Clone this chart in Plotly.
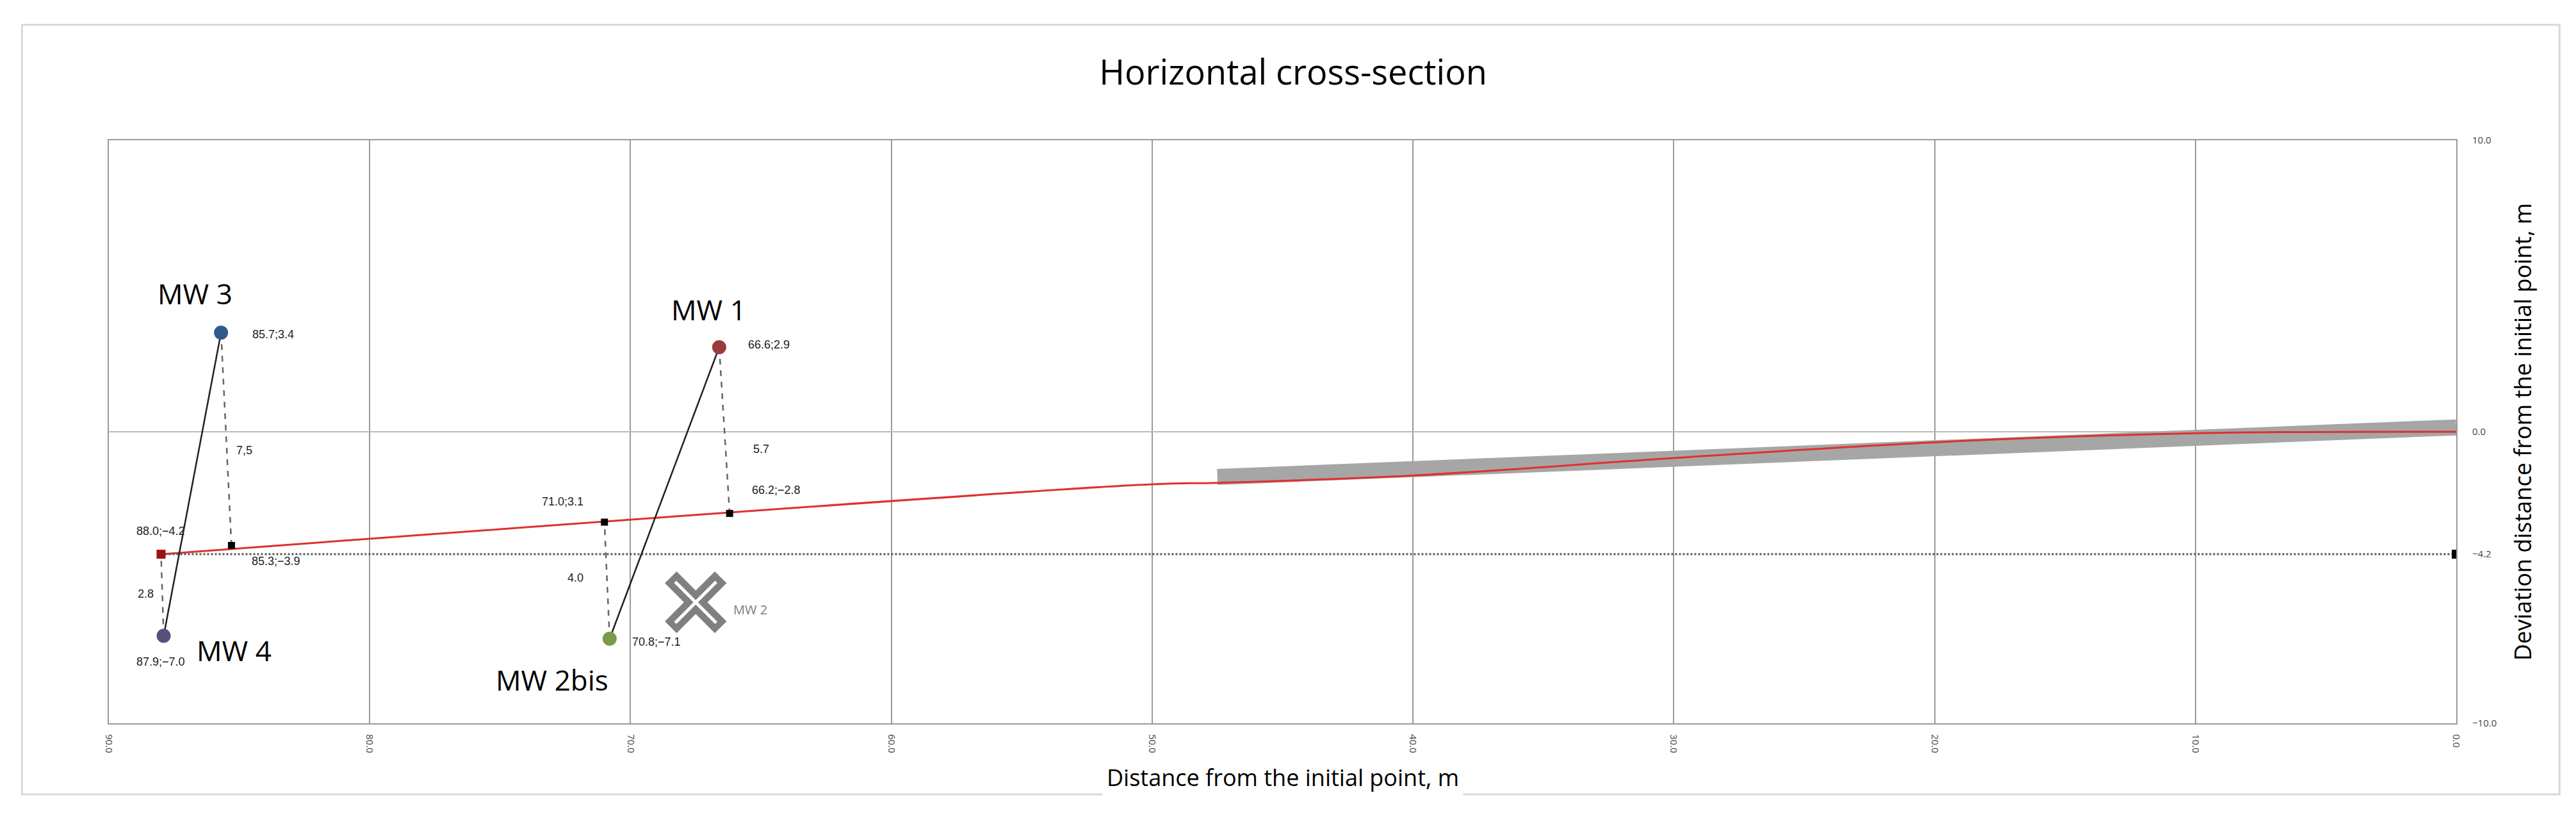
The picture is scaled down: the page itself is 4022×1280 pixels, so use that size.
import plotly.graph_objects as go

# Data
wells = ["MW 3", "MW 1", "MW 4", "MW 2bis"]
well_x = [85.7, 66.6, 87.9, 70.8]
well_y = [3.4, 2.9, -7.0, -7.1]
well_colors = ["#2f5b8a", "#9b3a3a", "#5a4f7c", "#7a9a4a"]
well_labels = ["85.7;3.4", "66.6;2.9", "87.9;−7.0", "70.8;−7.1"]
foot_x = [85.3, 66.2, 88.0, 71.0]
foot_y = [-3.9, -2.8, -4.2, -3.1]
foot_labels = ["85.3;−3.9", "66.2;−2.8", "88.0;−4.2", "71.0;3.1"]
dist_labels = ["7,5", "5.7", "2.8", "4.0"]
route_x = [88.0, 50.0, 47.5, 40.0, 30.0, 20.0, 10.0, 0.0]
route_y = [-4.2, -1.8, -1.75, -1.5, -0.9, -0.36, -0.05, 0.0]
band_x = [47.5, 0.0]
band_y = [-1.55, 0.15]
ref_y = -4.2
mw2_x, mw2_y = 67.5, -5.85

fig = go.Figure()
fig.add_shape(type="rect", xref="paper", yref="paper", x0=-0.037, x1=1.044, y0=-0.122, y1=1.198,
              line=dict(color="#d9d9d9", width=3), layer="below")
fig.add_trace(go.Scatter(x=band_x, y=band_y, mode="lines", line=dict(color="#a6a6a6", width=25)))
fig.add_trace(go.Scatter(x=route_x, y=route_y, mode="lines", line=dict(color="#e03030", width=3, shape="spline")))
fig.add_trace(go.Scatter(x=[route_x[0], 0.0], y=[ref_y, ref_y], mode="lines",
                         line=dict(color="#555", width=3, dash="dot")))
fig.add_trace(go.Scatter(x=[0.0], y=[ref_y], mode="markers",
                         marker=dict(symbol="square", size=14, color="black")))
fig.add_trace(go.Scatter(x=[well_x[0], well_x[2]], y=[well_y[0], well_y[2]], mode="lines",
                         line=dict(color="#222", width=2.5)))
fig.add_trace(go.Scatter(x=[well_x[1], well_x[3]], y=[well_y[1], well_y[3]], mode="lines",
                         line=dict(color="#222", width=2.5)))
for wx, wy, fx, fy in zip(well_x, well_y, foot_x, foot_y):
    fig.add_trace(go.Scatter(x=[wx, fx], y=[wy, fy], mode="lines",
                             line=dict(color="#666", width=2.5, dash="dash")))
fig.add_trace(go.Scatter(x=foot_x[:2] + foot_x[3:], y=foot_y[:2] + foot_y[3:], mode="markers",
                         marker=dict(symbol="square", size=11, color="black")))
fig.add_trace(go.Scatter(x=[foot_x[2]], y=[foot_y[2]], mode="markers",
                         marker=dict(symbol="square", size=14, color="#a01010")))
fig.add_trace(go.Scatter(x=well_x, y=well_y, mode="markers",
                         marker=dict(size=22, color=well_colors)))
fig.add_trace(go.Scatter(x=[mw2_x], y=[mw2_y], mode="markers",
                         marker=dict(symbol="x-thin-open", size=78, color="#808080",
                                     line=dict(width=26, color="#808080"))))
fig.add_trace(go.Scatter(x=[mw2_x], y=[mw2_y], mode="markers",
                         marker=dict(symbol="x-thin-open", size=64, color="white",
                                     line=dict(width=5, color="white"))))

small = dict(family="Liberation Sans Narrow, Liberation Sans", size=18, color="#222")
big = dict(family="Open Sans", size=44, color="black")
for t, x, y in zip(wells, [86.7, 67.0, 85.2, 73.0], [4.75, 4.2, -7.5, -8.5]):
    fig.add_annotation(x=x, y=y, text=t, showarrow=False, font=big)
for t, x, y in zip(well_labels, [83.7, 64.7, 88.0, 69.0], [3.35, 3.0, -7.9, -7.2]):
    fig.add_annotation(x=x, y=y, text=t, showarrow=False, font=small)
for t, x, y in zip(foot_labels, [83.6, 64.4, 88.0, 72.6], [-4.45, -2.0, -3.4, -2.4]):
    fig.add_annotation(x=x, y=y, text=t, showarrow=False, font=small)
for t, x, y in zip(dist_labels, [84.8, 65.0, 88.6, 72.1], [-0.63, -0.6, -5.56, -5.0]):
    fig.add_annotation(x=x, y=y, text=t, showarrow=False, font=small)
fig.add_annotation(x=65.4, y=-6.1, text="MW 2", showarrow=False,
                   font=dict(family="Open Sans", size=20, color="#808080"))
fig.add_annotation(x=0.5, y=-0.127, xref="paper", yref="paper", showarrow=False,
                   text="Distance from the initial point, m", bgcolor="white", borderpad=6,
                   font=dict(family="Open Sans", size=36, color="black"))

fig.update_layout(
    width=4022, height=1280, showlegend=False, plot_bgcolor="white", paper_bgcolor="white",
    margin=dict(l=162, r=195, t=211, b=159),
    title=dict(text="Horizontal cross-section", x=0.5, xanchor="center", y=0.918, yanchor="middle",
               font=dict(family="Open Sans", size=54, color="black")),
    xaxis=dict(range=[90, 0], tickvals=list(range(0, 100, 10)),
               ticktext=[f"{v:.1f}" for v in range(0, 100, 10)], tickangle=90,
               showgrid=True, gridcolor="#9a9a9a", gridwidth=2, zeroline=False,
               showline=True, linecolor="#9a9a9a", linewidth=2, mirror=True,
               tickfont=dict(size=15, color="#444"), ticklabelstandoff=12),
    yaxis=dict(range=[-10, 10], side="right", tickvals=[-10, -4.2, 0, 10],
               ticktext=["−10.0", "−4.2", "0.0", "10.0"], showgrid=False,
               zeroline=True, zerolinecolor="#bbbbbb", zerolinewidth=2,
               showline=True, linecolor="#9a9a9a", linewidth=2, mirror=True,
               tickfont=dict(size=15, color="#444"), ticklabelstandoff=20,
               title=dict(text="Deviation distance from the initial point, m", standoff=30,
                          font=dict(family="Open Sans", size=36, color="black"))),
)
fig.write_html("out.html")
